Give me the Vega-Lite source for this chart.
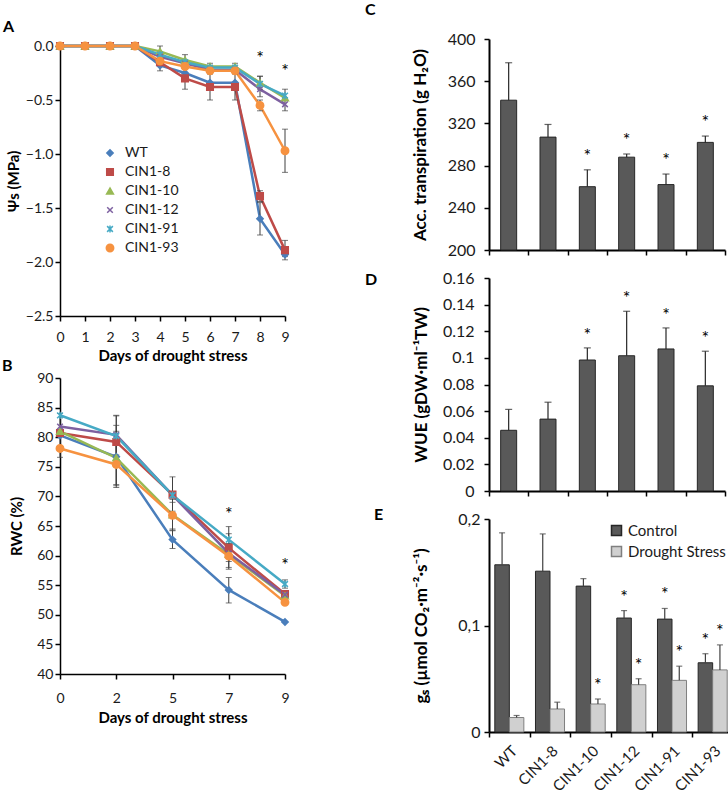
{
  "$schema": "https://vega.github.io/schema/vega-lite/v6.json",
  "padding": {"left": 2, "top": 2, "right": 0, "bottom": 0},
  "background": "white",
  "config": {
    "font": "Lato",
    "view": {"stroke": null},
    "axis": {"domainColor": "#000", "domainWidth": 1.5, "tickColor": "#000", "tickWidth": 1.5, "tickSize": 5, "grid": false, "labelColor": "#1a1a1a", "labelFontSize": 14, "titleFontSize": 15, "titleFontWeight": "bold", "titleColor": "#000"},
    "title": {"fontSize": 16, "fontWeight": "bold", "color": "#000", "anchor": "start", "frame": "group", "baseline": "alphabetic", "offset": 0}
  },
  "datasets": {
    "psi": [
      {"d":0,"s":"WT","v":0},{"d":1,"s":"WT","v":0},{"d":2,"s":"WT","v":0},{"d":3,"s":"WT","v":0},{"d":4,"s":"WT","v":-0.18,"lo":-0.23,"hi":-0.13},{"d":5,"s":"WT","v":-0.25},{"d":6,"s":"WT","v":-0.34},{"d":7,"s":"WT","v":-0.34},{"d":8,"s":"WT","v":-1.6,"lo":-1.75,"hi":-1.45},{"d":9,"s":"WT","v":-1.93,"lo":-1.98,"hi":-1.88},
      {"d":0,"s":"CIN1-8","v":0},{"d":1,"s":"CIN1-8","v":0},{"d":2,"s":"CIN1-8","v":0},{"d":3,"s":"CIN1-8","v":0},{"d":4,"s":"CIN1-8","v":-0.15},{"d":5,"s":"CIN1-8","v":-0.3,"lo":-0.4,"hi":-0.2},{"d":6,"s":"CIN1-8","v":-0.38,"lo":-0.5,"hi":-0.26},{"d":7,"s":"CIN1-8","v":-0.38,"lo":-0.5,"hi":-0.26},{"d":8,"s":"CIN1-8","v":-1.39,"lo":-1.44,"hi":-1.34},{"d":9,"s":"CIN1-8","v":-1.89,"lo":-1.95,"hi":-1.8},
      {"d":0,"s":"CIN1-10","v":0},{"d":1,"s":"CIN1-10","v":0},{"d":2,"s":"CIN1-10","v":0},{"d":3,"s":"CIN1-10","v":0},{"d":4,"s":"CIN1-10","v":-0.05,"lo":-0.1,"hi":0.0},{"d":5,"s":"CIN1-10","v":-0.13,"lo":-0.18,"hi":-0.08},{"d":6,"s":"CIN1-10","v":-0.19},{"d":7,"s":"CIN1-10","v":-0.19},{"d":8,"s":"CIN1-10","v":-0.34,"lo":-0.4,"hi":-0.28},{"d":9,"s":"CIN1-10","v":-0.48},
      {"d":0,"s":"CIN1-12","v":0},{"d":1,"s":"CIN1-12","v":0},{"d":2,"s":"CIN1-12","v":0},{"d":3,"s":"CIN1-12","v":0},{"d":4,"s":"CIN1-12","v":-0.1},{"d":5,"s":"CIN1-12","v":-0.16},{"d":6,"s":"CIN1-12","v":-0.22},{"d":7,"s":"CIN1-12","v":-0.22},{"d":8,"s":"CIN1-12","v":-0.4,"lo":-0.47,"hi":-0.28},{"d":9,"s":"CIN1-12","v":-0.54,"lo":-0.6,"hi":-0.48},
      {"d":0,"s":"CIN1-91","v":0},{"d":1,"s":"CIN1-91","v":0},{"d":2,"s":"CIN1-91","v":0},{"d":3,"s":"CIN1-91","v":0},{"d":4,"s":"CIN1-91","v":-0.08},{"d":5,"s":"CIN1-91","v":-0.15},{"d":6,"s":"CIN1-91","v":-0.2,"lo":-0.24,"hi":-0.16},{"d":7,"s":"CIN1-91","v":-0.2,"lo":-0.24,"hi":-0.16},{"d":8,"s":"CIN1-91","v":-0.35},{"d":9,"s":"CIN1-91","v":-0.46,"lo":-0.5,"hi":-0.4},
      {"d":0,"s":"CIN1-93","v":0},{"d":1,"s":"CIN1-93","v":0},{"d":2,"s":"CIN1-93","v":0},{"d":3,"s":"CIN1-93","v":0},{"d":4,"s":"CIN1-93","v":-0.14},{"d":5,"s":"CIN1-93","v":-0.19},{"d":6,"s":"CIN1-93","v":-0.23},{"d":7,"s":"CIN1-93","v":-0.23},{"d":8,"s":"CIN1-93","v":-0.55,"lo":-0.6,"hi":-0.5},{"d":9,"s":"CIN1-93","v":-0.97,"lo":-1.17,"hi":-0.77}
    ],
    "starsA": [{"d":8,"v":-0.085},{"d":9,"v":-0.2}],
    "rwc": [
      {"d":0,"s":"WT","v":80.3,"lo":76.6,"hi":84},{"d":2,"s":"WT","v":76.7,"lo":71.5,"hi":82},{"d":5,"s":"WT","v":62.7,"lo":61.2,"hi":64.3},{"d":7,"s":"WT","v":54.2,"lo":52,"hi":56.3},{"d":9,"s":"WT","v":48.8},
      {"d":0,"s":"CIN1-8","v":80.7},{"d":2,"s":"CIN1-8","v":79.2,"lo":75,"hi":83.6},{"d":5,"s":"CIN1-8","v":70.3,"lo":67.5,"hi":73.3},{"d":7,"s":"CIN1-8","v":61.3,"lo":59,"hi":63.7},{"d":9,"s":"CIN1-8","v":53.5},
      {"d":0,"s":"CIN1-10","v":81.0},{"d":2,"s":"CIN1-10","v":76.5,"lo":72,"hi":81},{"d":5,"s":"CIN1-10","v":66.9,"lo":64.2,"hi":69.5},{"d":7,"s":"CIN1-10","v":60.2,"lo":58,"hi":62},{"d":9,"s":"CIN1-10","v":53.2},
      {"d":0,"s":"CIN1-12","v":81.8},{"d":2,"s":"CIN1-12","v":80.4,"lo":77,"hi":83.7},{"d":5,"s":"CIN1-12","v":70.2},{"d":7,"s":"CIN1-12","v":60.4},{"d":9,"s":"CIN1-12","v":53.4},
      {"d":0,"s":"CIN1-91","v":83.7},{"d":2,"s":"CIN1-91","v":80.2},{"d":5,"s":"CIN1-91","v":70.2},{"d":7,"s":"CIN1-91","v":62.7,"lo":60.5,"hi":64.9},{"d":9,"s":"CIN1-91","v":55.2,"lo":54.5,"hi":55.9},
      {"d":0,"s":"CIN1-93","v":78.1},{"d":2,"s":"CIN1-93","v":75.4,"lo":71.8,"hi":79},{"d":5,"s":"CIN1-93","v":66.8,"lo":64.5,"hi":69},{"d":7,"s":"CIN1-93","v":59.9,"lo":57.7,"hi":62},{"d":9,"s":"CIN1-93","v":52.1}
    ],
    "starsB": [{"d":7,"v":67.5},{"d":9,"v":59.0}],
    "trans": [
      {"s":"WT","v":342,"hi":377.5,"sig":false},{"s":"CIN1-8","v":307,"hi":319,"sig":false},{"s":"CIN1-10","v":260,"hi":276,"sig":true},{"s":"CIN1-12","v":288,"hi":291,"sig":true},{"s":"CIN1-91","v":262,"hi":272,"sig":true},{"s":"CIN1-93","v":302,"hi":308,"sig":true}
    ],
    "wue": [
      {"s":"WT","v":0.0456,"hi":0.0613,"sig":false},{"s":"CIN1-8","v":0.054,"hi":0.0667,"sig":false},{"s":"CIN1-10","v":0.0984,"hi":0.1075,"sig":true},{"s":"CIN1-12","v":0.1016,"hi":0.135,"sig":true},{"s":"CIN1-91","v":0.1067,"hi":0.1225,"sig":true},{"s":"CIN1-93","v":0.079,"hi":0.105,"sig":true}
    ],
    "gs": [
      {"s":"WT","c":"Control","v":0.157,"hi":0.187,"sig":false},{"s":"WT","c":"Drought Stress","v":0.0136,"hi":0.0155,"sig":false},
      {"s":"CIN1-8","c":"Control","v":0.151,"hi":0.186,"sig":false},{"s":"CIN1-8","c":"Drought Stress","v":0.0216,"hi":0.028,"sig":false},
      {"s":"CIN1-10","c":"Control","v":0.137,"hi":0.144,"sig":false},{"s":"CIN1-10","c":"Drought Stress","v":0.0263,"hi":0.031,"sig":true},
      {"s":"CIN1-12","c":"Control","v":0.107,"hi":0.114,"sig":true},{"s":"CIN1-12","c":"Drought Stress","v":0.0444,"hi":0.05,"sig":true},
      {"s":"CIN1-91","c":"Control","v":0.106,"hi":0.116,"sig":true},{"s":"CIN1-91","c":"Drought Stress","v":0.0485,"hi":0.0618,"sig":true},
      {"s":"CIN1-93","c":"Control","v":0.065,"hi":0.0735,"sig":true},{"s":"CIN1-93","c":"Drought Stress","v":0.0583,"hi":0.0818,"sig":true}
    ]
  },
  "resolve": {"scale": {"fill": "independent", "stroke": "independent", "shape": "independent", "size": "independent", "x": "independent", "y": "independent"}},
  "spacing": 73,
  "hconcat": [
    {
      "bounds": "flush",
      "spacing": 62,
      "resolve": {"scale": {"fill": "independent", "stroke": "independent", "shape": "independent", "size": "independent"}},
      "vconcat": [
        {
          "width": 225, "height": 277,
          "title": {"text": "A", "dx": -57, "dy": 0},
          "data": {"name": "psi"},
          "encoding": {
            "x": {"field": "d", "type": "quantitative", "scale": {"domain": [0, 9], "nice": false}, "axis": {"values": [0,1,2,3,4,5,6,7,8,9], "labelPadding": 9, "titlePadding": 4, "labelFlush": false}, "title": "Days of drought stress"},
            "y": {"field": "v", "type": "quantitative", "scale": {"domain": [-2.5, 0], "nice": false, "range": [277, 7]}, "axis": {"values": [-2.5,-2,-1.5,-1,-0.5,0], "format": ".1f", "titlePadding": 4, "labelFlush": false}, "title": "Ψs (MPa)"}
          },
          "layer": [
            {"mark": {"type": "line", "strokeWidth": 2.5},
             "encoding": {"stroke": {"field": "s", "type": "nominal", "scale": {"domain": ["WT","CIN1-8","CIN1-10","CIN1-12","CIN1-91","CIN1-93"], "range": ["#4A7EBB","#BE4B48","#98B954","#7D60A0","#46AAC5","#F69240"]},
               "legend": {"orient": "none", "legendX": 43, "legendY": 107, "title": null, "labelFontSize": 14, "labelColor": "#1a1a1a", "rowPadding": 5, "labelOffset": 8, "padding": 0, "symbolStrokeWidth": 1.5}}}},
            {"transform": [{"filter": "datum.hi != null"}], "mark": {"type": "rule", "color": "#404040", "strokeWidth": 1}, "encoding": {"y": {"field": "lo", "type": "quantitative", "scale": {"domain": [-2.5, 0], "nice": false, "range": [277, 7]}, "title": "Ψs (MPa)"}, "y2": {"field": "hi"}}},
            {"transform": [{"filter": "datum.hi != null"}], "mark": {"type": "tick", "orient": "horizontal", "color": "#404040", "thickness": 1, "size": 6}, "encoding": {"y": {"field": "lo", "type": "quantitative", "scale": {"domain": [-2.5, 0], "nice": false, "range": [277, 7]}, "title": "Ψs (MPa)"}}},
            {"transform": [{"filter": "datum.hi != null"}], "mark": {"type": "tick", "orient": "horizontal", "color": "#404040", "thickness": 1, "size": 6}, "encoding": {"y": {"field": "hi", "type": "quantitative", "scale": {"domain": [-2.5, 0], "nice": false, "range": [277, 7]}, "title": "Ψs (MPa)"}}},
            {"mark": {"type": "point", "filled": true, "strokeWidth": 1.5, "opacity": 1},
             "encoding": {
               "shape": {"field": "s", "type": "nominal", "scale": {"domain": ["WT","CIN1-8","CIN1-10","CIN1-12","CIN1-91","CIN1-93"], "range": ["diamond","square","triangle-up","M-0.8,-0.8L0.8,0.8M-0.8,0.8L0.8,-0.8","M-0.8,-0.8L0.8,0.8M-0.8,0.8L0.8,-0.8M0,-1L0,1","circle"]},
                 "legend": {"orient": "none", "legendX": 43, "legendY": 107, "title": null, "labelFontSize": 14, "labelColor": "#1a1a1a", "rowPadding": 5, "labelOffset": 8, "padding": 0, "symbolStrokeWidth": 1.5}},
               "fill": {"field": "s", "type": "nominal", "scale": {"domain": ["WT","CIN1-8","CIN1-10","CIN1-12","CIN1-91","CIN1-93"], "range": ["#4A7EBB","#BE4B48","#98B954","#7D60A0","#46AAC5","#F69240"]},
                 "legend": {"orient": "none", "legendX": 43, "legendY": 107, "title": null, "labelFontSize": 14, "labelColor": "#1a1a1a", "rowPadding": 5, "labelOffset": 8, "padding": 0, "symbolStrokeWidth": 1.5}},
               "stroke": {"field": "s", "type": "nominal", "scale": {"domain": ["WT","CIN1-8","CIN1-10","CIN1-12","CIN1-91","CIN1-93"], "range": ["#4A7EBB","#BE4B48","#98B954","#7D60A0","#46AAC5","#F69240"]},
                 "legend": {"orient": "none", "legendX": 43, "legendY": 107, "title": null, "labelFontSize": 14, "labelColor": "#1a1a1a", "rowPadding": 5, "labelOffset": 8, "padding": 0, "symbolStrokeWidth": 1.5}},
               "size": {"field": "s", "type": "nominal", "scale": {"domain": ["WT","CIN1-8","CIN1-10","CIN1-12","CIN1-91","CIN1-93"], "range": [40, 55, 50, 45, 55, 70]}, "legend": null}
             }},
            {"data": {"name": "starsA"}, "mark": {"type": "text", "text": "*", "fontSize": 18, "baseline": "middle", "dy": 4, "color": "#000"}, "encoding": {"y": {"field": "v", "type": "quantitative", "scale": {"domain": [-2.5, 0], "nice": false, "range": [277, 7]}, "title": "Ψs (MPa)"}}}
          ]
        },
        {
          "width": 225, "height": 296,
          "title": {"text": "B", "dx": -58, "dy": 7},
          "data": {"name": "rwc"},
          "encoding": {
            "x": {"field": "d", "type": "ordinal", "scale": {"domain": [0, 2, 5, 7, 9], "type": "point", "padding": 0}, "axis": {"labelAngle": 0, "labelPadding": 12, "titlePadding": 5}, "title": "Days of drought stress"},
            "y": {"field": "v", "type": "quantitative", "scale": {"domain": [40, 90], "nice": false, "zero": false}, "axis": {"values": [40,45,50,55,60,65,70,75,80,85,90], "titlePadding": 12, "labelFlush": false}, "title": "RWC (%)"}
          },
          "layer": [
            {"mark": {"type": "line", "strokeWidth": 2.5}, "encoding": {"stroke": {"field": "s", "type": "nominal", "scale": {"domain": ["WT","CIN1-8","CIN1-10","CIN1-12","CIN1-91","CIN1-93"], "range": ["#4A7EBB","#BE4B48","#98B954","#7D60A0","#46AAC5","#F69240"]}, "legend": null}}},
            {"transform": [{"filter": "datum.hi != null"}], "mark": {"type": "rule", "color": "#404040", "strokeWidth": 1}, "encoding": {"y": {"field": "lo", "type": "quantitative", "scale": {"domain": [40, 90], "nice": false, "zero": false}, "title": "RWC (%)"}, "y2": {"field": "hi"}}},
            {"transform": [{"filter": "datum.hi != null"}], "mark": {"type": "tick", "orient": "horizontal", "color": "#404040", "thickness": 1, "size": 6}, "encoding": {"y": {"field": "lo", "type": "quantitative", "scale": {"domain": [40, 90], "nice": false, "zero": false}, "title": "RWC (%)"}}},
            {"transform": [{"filter": "datum.hi != null"}], "mark": {"type": "tick", "orient": "horizontal", "color": "#404040", "thickness": 1, "size": 6}, "encoding": {"y": {"field": "hi", "type": "quantitative", "scale": {"domain": [40, 90], "nice": false, "zero": false}, "title": "RWC (%)"}}},
            {"mark": {"type": "point", "filled": true, "strokeWidth": 1.5, "opacity": 1},
             "encoding": {
               "shape": {"field": "s", "type": "nominal", "scale": {"domain": ["WT","CIN1-8","CIN1-10","CIN1-12","CIN1-91","CIN1-93"], "range": ["diamond","square","triangle-up","M-0.8,-0.8L0.8,0.8M-0.8,0.8L0.8,-0.8","M-0.8,-0.8L0.8,0.8M-0.8,0.8L0.8,-0.8M0,-1L0,1","circle"]}, "legend": null},
               "fill": {"field": "s", "type": "nominal", "scale": {"domain": ["WT","CIN1-8","CIN1-10","CIN1-12","CIN1-91","CIN1-93"], "range": ["#4A7EBB","#BE4B48","#98B954","#7D60A0","#46AAC5","#F69240"]}, "legend": null},
               "stroke": {"field": "s", "type": "nominal", "scale": {"domain": ["WT","CIN1-8","CIN1-10","CIN1-12","CIN1-91","CIN1-93"], "range": ["#4A7EBB","#BE4B48","#98B954","#7D60A0","#46AAC5","#F69240"]}, "legend": null},
               "size": {"field": "s", "type": "nominal", "scale": {"domain": ["WT","CIN1-8","CIN1-10","CIN1-12","CIN1-91","CIN1-93"], "range": [40, 55, 50, 45, 55, 70]}, "legend": null}
             }},
            {"data": {"name": "starsB"}, "mark": {"type": "text", "text": "*", "fontSize": 18, "baseline": "middle", "dy": 4, "color": "#000"}, "encoding": {"y": {"field": "v", "type": "quantitative", "scale": {"domain": [40, 90], "nice": false, "zero": false}, "title": "RWC (%)"}}}
          ]
        }
      ]
    },
    {
      "bounds": "flush",
      "spacing": 28,
      "resolve": {"scale": {"fill": "independent", "stroke": "independent"}},
      "vconcat": [
        {
          "width": 236, "height": 211,
          "title": {"text": "C", "dx": -124, "dy": -9},
          "data": {"name": "trans"},
          "encoding": {
            "x": {"field": "s", "type": "nominal", "sort": null, "scale": {"domain": ["WT","CIN1-8","CIN1-10","CIN1-12","CIN1-91","CIN1-93"], "paddingInner": 0, "paddingOuter": 0}, "axis": {"labels": false, "tickBand": "extent", "domainWidth": 2}, "title": null},
            "y": {"field": "v", "type": "quantitative", "scale": {"domain": [200, 400], "nice": false, "zero": false}, "axis": {"values": [200,240,280,320,360,400], "labelFontSize": 16, "labelPadding": 9, "titleFontSize": 17, "titlePadding": 18, "labelFlush": false, "domainWidth": 2}, "title": "Acc. transpiration (g H₂O)"}
          },
          "layer": [
            {"mark": {"type": "bar", "width": 16, "fill": "#595959", "stroke": "#262626", "strokeWidth": 1}, "encoding": {"y2": {"datum": 200}}},
            {"mark": {"type": "rule", "color": "#262626", "strokeWidth": 1.2}, "encoding": {"y2": {"field": "hi"}}},
            {"mark": {"type": "tick", "orient": "horizontal", "color": "#262626", "thickness": 1.2, "size": 7}, "encoding": {"y": {"field": "hi", "type": "quantitative", "scale": {"domain": [200, 400], "nice": false, "zero": false}, "title": "Acc. transpiration (g H₂O)"}}},
            {"transform": [{"filter": "datum.sig"}], "mark": {"type": "text", "text": "*", "fontSize": 18, "baseline": "middle", "dy": -13, "color": "#000"}, "encoding": {"y": {"field": "hi", "type": "quantitative", "scale": {"domain": [200, 400], "nice": false, "zero": false}, "title": "Acc. transpiration (g H₂O)"}}}
          ]
        },
        {
          "width": 236, "height": 213,
          "title": {"text": "D", "dx": -124, "dy": 22},
          "data": {"name": "wue"},
          "encoding": {
            "x": {"field": "s", "type": "nominal", "sort": null, "scale": {"domain": ["WT","CIN1-8","CIN1-10","CIN1-12","CIN1-91","CIN1-93"], "paddingInner": 0, "paddingOuter": 0}, "axis": {"labels": false, "tickBand": "extent", "domainWidth": 2}, "title": null},
            "y": {"field": "v", "type": "quantitative", "scale": {"domain": [0, 0.16], "nice": false}, "axis": {"values": [0,0.02,0.04,0.06,0.08,0.1,0.12,0.14,0.16], "format": "~g", "labelFontSize": 16, "labelPadding": 10, "titleFontSize": 17, "titlePadding": 12, "labelFlush": false, "domainWidth": 2}, "title": "WUE (gDW·ml⁻¹TW)"}
          },
          "layer": [
            {"mark": {"type": "bar", "width": 16, "fill": "#595959", "stroke": "#262626", "strokeWidth": 1}},
            {"mark": {"type": "rule", "color": "#262626", "strokeWidth": 1.2}, "encoding": {"y2": {"field": "hi"}}},
            {"mark": {"type": "tick", "orient": "horizontal", "color": "#262626", "thickness": 1.2, "size": 7}, "encoding": {"y": {"field": "hi", "type": "quantitative", "scale": {"domain": [0, 0.16], "nice": false}, "title": "WUE (gDW·ml⁻¹TW)"}}},
            {"transform": [{"filter": "datum.sig"}], "mark": {"type": "text", "text": "*", "fontSize": 18, "baseline": "middle", "dy": -12, "color": "#000"}, "encoding": {"y": {"field": "hi", "type": "quantitative", "scale": {"domain": [0, 0.16], "nice": false}, "title": "WUE (gDW·ml⁻¹TW)"}}}
          ]
        },
        {
          "width": 244, "height": 213,
          "title": {"text": "E", "dx": -115, "dy": 16},
          "data": {"name": "gs"},
          "encoding": {
            "x": {"field": "s", "type": "nominal", "sort": null, "scale": {"domain": ["WT","CIN1-8","CIN1-10","CIN1-12","CIN1-91","CIN1-93"], "paddingInner": 0, "paddingOuter": 0}, "axis": {"labelAngle": -45, "labelFontSize": 15, "tickBand": "extent", "domainWidth": 2, "labelPadding": 6}, "title": null},
            "xOffset": {"field": "c", "type": "nominal", "scale": {"domain": ["Control", "Drought Stress"], "paddingOuter": 0.4, "paddingInner": 0}},
            "y": {"field": "v", "type": "quantitative", "scale": {"domain": [0, 0.2], "nice": false}, "axis": {"values": [0, 0.1, 0.2], "format": "~g", "labelExpr": "replace(datum.label, '.', ',')", "labelFontSize": 16, "labelPadding": 4, "titleFontSize": 17, "titlePadding": 27, "labelFlush": false, "domainWidth": 2}, "title": "gₛ (µmol CO₂·m⁻²·s⁻¹)"}
          },
          "layer": [
            {"mark": {"type": "bar", "strokeWidth": 1},
             "encoding": {
               "fill": {"field": "c", "type": "nominal", "scale": {"domain": ["Control", "Drought Stress"], "range": ["#595959", "#D0D0D0"]},
                 "legend": {"orient": "none", "legendX": 120, "legendY": 4, "title": null, "symbolType": "square", "symbolSize": 100, "labelFontSize": 15, "labelColor": "#1a1a1a", "rowPadding": 4, "labelOffset": 4, "padding": 0}},
               "stroke": {"field": "c", "type": "nominal", "scale": {"domain": ["Control", "Drought Stress"], "range": ["#262626", "#7f7f7f"]},
                 "legend": {"orient": "none", "legendX": 120, "legendY": 4, "title": null, "symbolType": "square", "symbolSize": 100, "labelFontSize": 15, "labelColor": "#1a1a1a", "rowPadding": 4, "labelOffset": 4, "padding": 0}}
             }},
            {"mark": {"type": "rule", "color": "#404040", "strokeWidth": 1.2}, "encoding": {"y2": {"field": "hi"}}},
            {"mark": {"type": "tick", "orient": "horizontal", "color": "#404040", "thickness": 1.2, "size": 6}, "encoding": {"y": {"field": "hi", "type": "quantitative", "scale": {"domain": [0, 0.2], "nice": false}, "title": "gₛ (µmol CO₂·m⁻²·s⁻¹)"}}},
            {"transform": [{"filter": "datum.sig"}], "mark": {"type": "text", "text": "*", "fontSize": 18, "baseline": "middle", "dy": -13, "color": "#000"}, "encoding": {"y": {"field": "hi", "type": "quantitative", "scale": {"domain": [0, 0.2], "nice": false}, "title": "gₛ (µmol CO₂·m⁻²·s⁻¹)"}}}
          ]
        }
      ]
    }
  ]
}
